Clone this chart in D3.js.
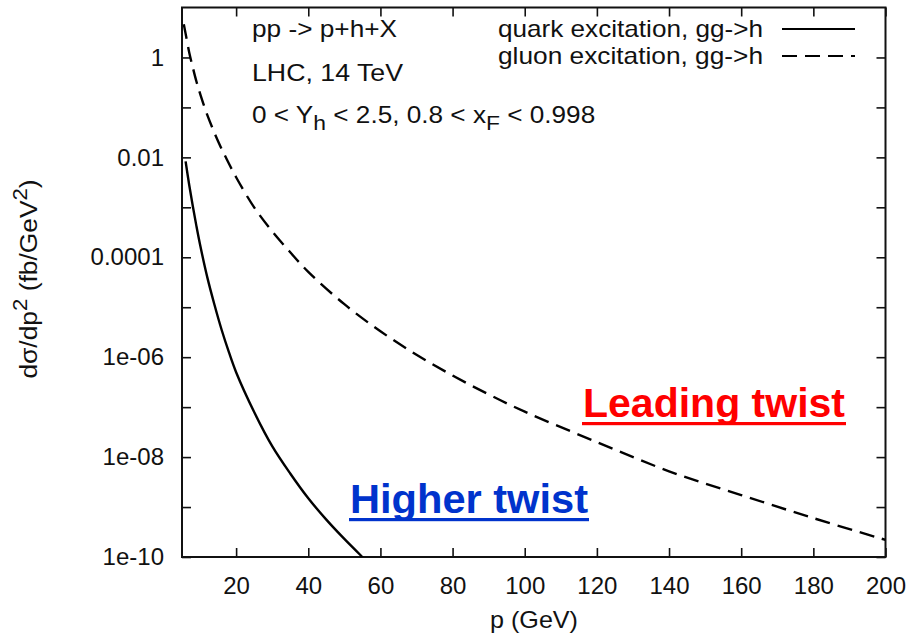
<!DOCTYPE html>
<html>
<head>
<meta charset="utf-8">
<script src="https://cdn.jsdelivr.net/npm/d3@7/dist/d3.min.js"></script>
<style>
  html, body { margin: 0; padding: 0; background: #fff; }
  svg { display: block; }
  text { font-family: "Liberation Sans", Arial, sans-serif; fill: #111; }
</style>
</head>
<body>
<svg id="chart" width="914" height="643"></svg>
<script>
// ---- data ----
const pGluon = [5.5, 6, 7, 8, 9, 10, 12, 15, 17, 20, 25, 30, 35, 40, 50, 60, 70, 80, 90, 100, 120, 140, 160, 180, 200];
const sigmaGluon = [4.6, 3.0, 1.26, 0.63, 0.33, 0.19, 0.071, 0.021, 0.0105, 4.0e-3, 1.0e-3, 3.3e-4, 1.26e-4, 5.1e-5,
                    1.15e-5, 3.3e-6, 1.12e-6, 4.3e-7, 1.8e-7, 8.1e-8, 2.0e-8, 5.2e-9, 1.74e-9, 6.0e-10, 2.2e-10];
const pQuark = [6, 7, 8, 9, 10, 12, 14, 16, 18, 20, 25, 30, 35, 40, 45, 50, 55, 56];
const sigmaQuark = [8.3e-3, 2.8e-3, 1.05e-3, 4.2e-4, 1.8e-4, 4.0e-5, 1.12e-5, 3.5e-6, 1.26e-6, 5.0e-7,
                    8.0e-8, 1.66e-8, 4.7e-9, 1.5e-9, 5.6e-10, 2.3e-10, 1.0e-10, 8.5e-11];
const xTicks = [20, 40, 60, 80, 100, 120, 140, 160, 180, 200];
const yTicks = [1e-10, 1e-9, 1e-8, 1e-7, 1e-6, 1e-5, 1e-4, 1e-3, 1e-2, 1e-1, 1];
const yTickLabels = ["1e-10", "", "1e-08", "", "1e-06", "", "0.0001", "", "0.01", "", "1"];
const legendLabels = ["quark excitation, gg->h", "gluon excitation, gg->h"];

// ---- layout ----
const svg = d3.select("#chart");
const L = 182, R = 885.5, T = 7.5, B = 557;
const x = d3.scaleLinear().domain([5, 200]).range([L, R]);
const y = d3.scaleLog().domain([1e-10, 10]).range([B, T]);
const tickLen = 9;

svg.append("defs").append("clipPath").attr("id", "clip")
  .append("rect").attr("x", L).attr("y", T).attr("width", R - L).attr("height", B - T);

// axes
const gB = svg.append("g").attr("transform", `translate(0,${B})`)
  .call(d3.axisBottom(x).tickValues(xTicks).tickSizeInner(-tickLen).tickSizeOuter(0).tickPadding(20));
const gT = svg.append("g").attr("transform", `translate(0,${T})`)
  .call(d3.axisTop(x).tickValues(xTicks).tickSizeInner(-tickLen).tickSizeOuter(0).tickFormat(""));
const gL = svg.append("g").attr("transform", `translate(${L},0)`)
  .call(d3.axisLeft(y).tickValues(yTicks).tickSizeInner(-tickLen).tickSizeOuter(0).tickPadding(18)
    .tickFormat((d, i) => yTickLabels[i]));
const gR = svg.append("g").attr("transform", `translate(${R},0)`)
  .call(d3.axisRight(y).tickValues(yTicks).tickSizeInner(-tickLen).tickSizeOuter(0).tickFormat(""));

[gB, gT, gL, gR].forEach(g => {
  g.select(".domain").remove();
  g.selectAll(".tick line").attr("stroke", "#111").attr("stroke-width", 1.6);
  g.selectAll(".tick text").attr("font-size", 24).attr("font-family", "Liberation Sans, Arial, sans-serif").attr("fill", "#111");
});

// frame
svg.append("rect").attr("x", L).attr("y", T).attr("width", R - L).attr("height", B - T)
  .attr("fill", "none").attr("stroke", "#111").attr("stroke-width", 2);

// curves
const line = d3.line().x(d => x(d[0])).y(d => y(d[1])).curve(d3.curveCatmullRom.alpha(0.5));
const plot = svg.append("g").attr("clip-path", "url(#clip)");
plot.append("path").datum(pQuark.map((p, i) => [p, sigmaQuark[i]]))
  .attr("d", line).attr("fill", "none").attr("stroke", "#000").attr("stroke-width", 2.4);
plot.append("path").datum(pGluon.map((p, i) => [p, sigmaGluon[i]]))
  .attr("d", line).attr("fill", "none").attr("stroke", "#000").attr("stroke-width", 2.4)
  .attr("stroke-dasharray", "15,8");

// legend
const lg = svg.append("g");
legendLabels.forEach((t, i) => {
  const by = [37, 64][i];
  lg.append("text").attr("x", 763).attr("y", by).attr("text-anchor", "end")
    .attr("font-size", 24).attr("textLength", 265).attr("lengthAdjust", "spacingAndGlyphs").text(t);
  lg.append("line").attr("x1", 782).attr("x2", 855).attr("y1", by - 8).attr("y2", by - 8)
    .attr("stroke", "#000").attr("stroke-width", 2.2)
    .attr("stroke-dasharray", i === 1 ? "15,8" : null);
});

// annotations
svg.append("text").attr("x", 252).attr("y", 37).attr("font-size", 24)
  .attr("textLength", 145).attr("lengthAdjust", "spacingAndGlyphs").text("pp -> p+h+X");
svg.append("text").attr("x", 252).attr("y", 81).attr("font-size", 24)
  .attr("textLength", 151).attr("lengthAdjust", "spacingAndGlyphs").text("LHC, 14 TeV");
const a3 = svg.append("text").attr("transform", "translate(252,123) scale(1.09,1)").attr("font-size", 24);
a3.append("tspan").text("0 < Y");
a3.append("tspan").attr("dy", 7).attr("font-size", 21).text("h");
a3.append("tspan").attr("dy", -7).text(" < 2.5, 0.8 < x");
a3.append("tspan").attr("dy", 7).attr("font-size", 21).text("F");
a3.append("tspan").attr("dy", -7).text(" < 0.998");

// axis titles
svg.append("text").attr("x", 534).attr("y", 628).attr("text-anchor", "middle").attr("font-size", 24)
  .attr("textLength", 88).attr("lengthAdjust", "spacingAndGlyphs").text("p (GeV)");
const yt = svg.append("text").attr("transform", "translate(37,279) rotate(-90) scale(1.1,1)")
  .attr("text-anchor", "middle").attr("font-size", 24);
yt.append("tspan").text("dσ/dp");
yt.append("tspan").attr("dy", -10).attr("font-size", 20).text("2");
yt.append("tspan").attr("dy", 10).text("  (fb/GeV");
yt.append("tspan").attr("dy", -10).attr("font-size", 20).text("2");
yt.append("tspan").attr("dy", 10).text(")");

// overlaid labels
function bigLabel(txt, x0, by, w, color) {
  svg.append("text").attr("x", x0).attr("y", by).attr("font-size", 40)
    .attr("font-family", "Lato, 'Open Sans', sans-serif").attr("font-weight", "bold")
    .attr("fill", color).style("fill", color)
    .attr("textLength", w).attr("lengthAdjust", "spacingAndGlyphs").text(txt);
  svg.append("rect").attr("x", x0 - 1).attr("y", by + 5).attr("width", w + 2).attr("height", 3.2).attr("fill", color);
}
bigLabel("Leading twist", 583, 417, 262, "#ff0000");
bigLabel("Higher twist", 350, 513, 238, "#0033cc");
</script>
</body>
</html>
